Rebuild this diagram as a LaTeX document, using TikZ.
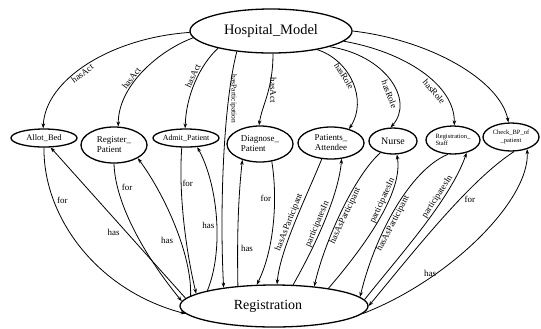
\documentclass[tikz,border=0pt]{standalone}
\usepackage{fontspec}
\setmainfont{Liberation Serif}
\usetikzlibrary{shapes.geometric,arrows.meta}
\begin{document}
\begin{tikzpicture}[x=1bp,y=-1bp,
  ell/.style={draw, ellipse, line width=1.3bp, inner sep=0pt},
  con/.style={line width=0.8bp, -{Stealth[length=5bp,width=3.6bp]}},
  elab/.style={font=\fontsize{9}{10}\selectfont, inner sep=1bp},
  slab/.style={elab, sloped},
  vlab/.style={elab, rotate=-90, anchor=south}]
\useasboundingbox (0,0) rectangle (541,328);
% nodes
\node[ell, minimum width=162bp, minimum height=44bp, font=\fontsize{14.5}{16}\selectfont] (hosp) at (271,31) {Hospital\_Model};
\node[ell, minimum width=188bp, minimum height=42bp, font=\fontsize{14}{16}\selectfont] (reg) at (274,306) {Registration\hspace*{12bp}};
\node[ell, minimum width=66bp, minimum height=18bp, font=\fontsize{8.5}{10}\selectfont] (allot) at (44,138) {Allot\_Bed};
\node[ell, minimum width=66bp, minimum height=36bp, font=\fontsize{9}{10}\selectfont, align=left] (regp) at (114,145) {Register\_\\Patient};
\node[ell, minimum width=66bp, minimum height=18bp, font=\fontsize{8}{10}\selectfont] (admit) at (186,138) {Admit\_Patient};
\node[ell, minimum width=66bp, minimum height=36bp, font=\fontsize{9}{10}\selectfont, align=left] (diag) at (260,144) {Diagnose\_\\Patient};
\node[ell, minimum width=66bp, minimum height=32bp, font=\fontsize{9}{10}\selectfont, align=center] (pa) at (331,143) {Patients\_\\Attendee};
\node[ell, minimum width=48bp, minimum height=26bp, font=\fontsize{10}{11}\selectfont] (nurse) at (393,141) {Nurse};
\node[ell, minimum width=54bp, minimum height=28bp, font=\fontsize{6.5}{7.5}\selectfont, align=left] (rs) at (453,140) {Registration\_\\Staff};
\node[ell, minimum width=56bp, minimum height=28bp, font=\fontsize{6.5}{7.5}\selectfont, align=center] (cbp) at (511,137) {Check\_BP\_of\\\_patient};
% Hospital_Model edges
\draw[con] (hosp.181) .. controls (110,38) and (45,80) .. node[slab, pos=0.55, below] (l1) {hasAct} (allot.95);
\draw[con] (hosp.185) .. controls (160,50) and (118,85) .. node[slab, pos=0.6, above] (l2) {hasAct} (regp.77);
\draw[con] (hosp.198) .. controls (200,65) and (186,95) .. node[slab, pos=0.45, above] (l3) {hasAct} (admit.95);
\draw[con] (hosp.211) .. controls (222,110) and (220,220) .. node[vlab, pos=0.23, font=\fontsize{7.5}{9}\selectfont] (l4) {hasParticipation} (reg.160);
\draw[con] (hosp.275) .. controls (273,90) and (262,105) .. node[vlab, pos=0.42] (l5) {hasAct} (diag.93);
\draw[con] (hosp.338) .. controls (350,60) and (368,100) .. node[slab, pos=0.4, below] (l6) {hasRole} (pa.38);
\draw[con] (hosp.345) .. controls (385,55) and (415,100) .. node[slab, pos=0.62, below=3bp] (l7) {hasRole} (nurse.100);
\draw[con] (hosp.352) .. controls (405,52) and (455,85) .. node[slab, pos=0.66, below=2bp] (l8) {hasRole} (rs.85);
\draw[con] (hosp.0) .. controls (430,40) and (500,80) .. (cbp.100);
% Allot_Bed
\draw[con] (allot.270) .. controls (43,215) and (95,290) .. node[elab, pos=0.26, right=2bp] (l9) {for} (reg.185.3);
\draw[con] (reg.175.5) -- node[elab, pos=0.434, left=6bp] (l10) {has} (allot.305);
% Register_Patient
\draw[con] (regp.270) .. controls (115,200) and (140,250) .. node[elab, pos=0.2, right=3bp] (l11) {for} (reg.177.5);
\draw[con] (reg.173.6) .. controls (192,255) and (165,195) .. node[elab, pos=0.4, left=6bp] (l12) {has} (regp.331);
% Admit_Patient
\draw[con] (admit.246) .. controls (178,200) and (188,260) .. node[elab, pos=0.22, right=0bp] (l13) {for} (reg.171.1);
\draw[con] (reg.167.6) .. controls (224,250) and (218,185) .. node[elab, pos=0.45, left=1bp] (l14) {has} (admit.321);
% Diagnose_Patient
\draw[con] (reg.151.7) .. controls (237,240) and (238,200) .. node[elab, pos=0.28, right=2bp] (l15) {has} (diag.222);
\draw[con] (diag.304) .. controls (278,200) and (274,250) .. node[elab, pos=0.3, left=2bp] (l16) {for} (reg.129.4);
% Patients_Attendee
\draw[con] (pa.240) .. controls (305,200) and (280,250) .. node[slab, pos=0.5, above] (l17) {hasAsParticipant} (reg.82);
\draw[con] (reg.48.9) .. controls (310,255) and (338,200) .. node[slab, pos=0.5, above] (l18) {participatesIn} (pa.304);
% Nurse
\draw[con] (nurse.223) .. controls (355,175) and (325,240) .. node[slab, pos=0.52, below] (l19) {hasAsParticipant} (reg.26.8);
\draw[con] (reg.18.1) .. controls (370,240) and (403,190) .. node[slab, pos=0.6, above] (l20) {participatesIn} (nurse.286);
% Registration_Staff
\draw[con] (rs.250) .. controls (410,170) and (375,235) .. node[slab, pos=0.58, below] (l21) {hasAsParticipant} (reg.6.7);
\draw[con] (reg.4.8) .. controls (400,255) and (450,200) .. node[slab, pos=0.68, above] (l22) {participatesIn} (rs.317);
% Check_BP_of_patient
\draw[con] (cbp.282) .. controls (470,180) and (415,250) .. node[elab, pos=0.38, right=3bp] (l23) {for} (reg.0);
\draw[con] (reg.355.7) .. controls (450,280) and (530,200) .. node[elab, pos=0.27, above] (l24) {has} (cbp.323);
\end{tikzpicture}
\end{document}
